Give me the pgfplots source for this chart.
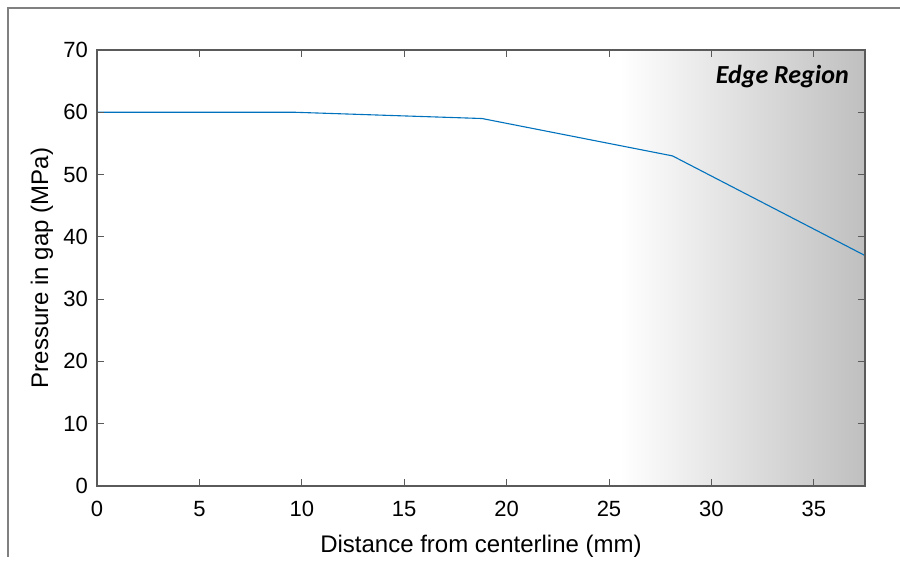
\documentclass[border=0pt]{standalone}
\usepackage{fontspec}
\setmainfont{Liberation Sans}
\newfontfamily\calfont{Carlito}
\usepackage{pgfplots}
\pgfplotsset{compat=1.18}

\definecolor{mblue}{RGB}{0,114,189}
\definecolor{axgray}{RGB}{90,90,90}

\begin{document}
\begin{tikzpicture}
\begin{axis}[
    scale only axis,
    width=384pt, height=218pt,
    at={(0,0)}, anchor=south west,
    xmin=0, xmax=37.5,
    ymin=0, ymax=70,
    xtick={0,5,...,35},
    ytick={0,10,...,70},
    tick align=inside,
    tick pos=both,
    major tick length=3.5pt,
    axis line style={axgray, line width=0.6pt},
    tick style={axgray, line width=0.5pt},
    axis on top,
    font=\fontsize{11}{13}\selectfont,
    /pgf/number format/assume math mode=true,
    xticklabel style={yshift=-4pt},
    yticklabel style={xshift=-1pt},
    xlabel={Distance from centerline (mm)},
    ylabel={Pressure in gap (MPa)},
    label style={font=\fontsize{12}{14}\selectfont},
    xlabel style={at={(axis description cs:0.5,0)}, anchor=base, yshift=-33.5pt},
    ylabel style={at={(axis description cs:0,0.5)}, anchor=center, yshift=27.5pt},
]
\fill[left color=white, right color=black!25] (axis cs:25.5,0) rectangle (axis cs:37.5,70);
\addplot[mblue, line width=0.55pt] coordinates {
    (0,60) (9.7,60) (18.8,59) (28.1,53) (37.5,37)
};
\node[anchor=east, font=\calfont\bfseries\itshape\fontsize{13}{15}\selectfont] at (axis cs:37.05,65.7) {Edge Region};
\end{axis}
\useasboundingbox (-48.5pt,-35.5pt) rectangle ++(450pt,278.5pt);
\draw[gray, line width=0.7pt] (-44.5pt,-35.5pt) -- (-44.5pt,239pt) -- (401.5pt,239pt);
\end{tikzpicture}
\end{document}
